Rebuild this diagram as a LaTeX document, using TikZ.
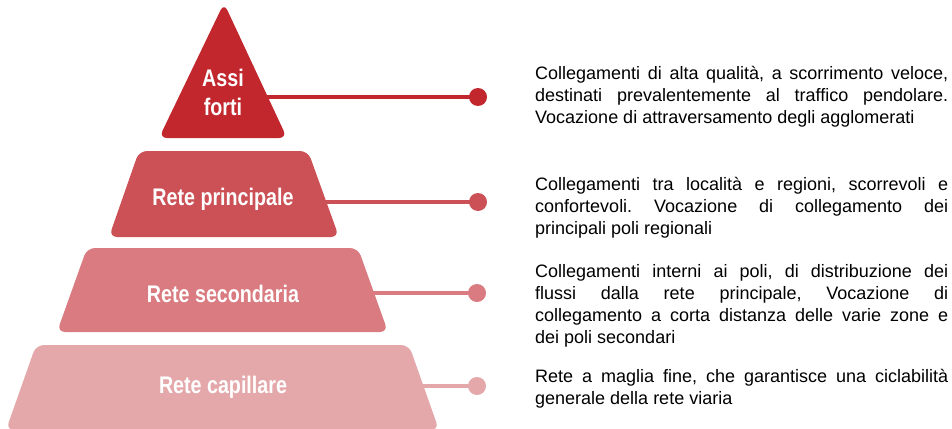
\documentclass[tikz,border=0pt]{standalone}
\usepackage{fontspec}
\setmainfont{Liberation Sans}
\newfontfamily\layerfont[FakeStretch=0.82]{Liberation Sans}
\usepackage{xcolor}
\hbadness=10000
\frenchspacing

\definecolor{assicol}{HTML}{C1272D}
\definecolor{princol}{HTML}{CC5156}
\definecolor{secocol}{HTML}{D97B80}
\definecolor{capicol}{HTML}{E4A8AA}

\tikzset{
    layer/.style={rounded corners=8pt},
    layerlabel/.style={text=white, inner sep=0pt, font=\layerfont\bfseries\fontsize{24}{29}\selectfont},
    leader/.style={line width=4.5pt},
    enddot/.style={circle, minimum size=18pt, inner sep=0pt},
    desc/.style={anchor=north west, inner sep=0pt, text width=413pt, align=justify, font=\fontsize{18}{22}\selectfont}
}

\begin{document}
\begin{tikzpicture}[x=1pt, y=-1pt]
        \useasboundingbox (0,0) rectangle (952,428);

        \fill[assicol, layer] (224,3) -- (287,138) -- (159,138) -- cycle;
        \fill[princol, layer] (139,151) -- (308,151) -- (339,237) -- (109,237) -- cycle;
        \fill[secocol, layer] (87,248) -- (358,248) -- (388,332) -- (57,332) -- cycle;
        \fill[capicol, layer] (36,345) -- (409,345) -- (439,430) -- (6,430) -- cycle;

        \node[layerlabel, align=center] (assi) at (223,92) {Assi\\forti};
        \node[layerlabel, anchor=base] (principale) at (223,205) {Rete principale};
        \node[layerlabel, anchor=base] (secondaria) at (223,302) {Rete secondaria};
        \node[layerlabel, anchor=base] (capillare) at (223,393) {Rete capillare};

        \coordinate (assi-e) at (266,97);
        \coordinate (principale-e) at (324,202);
        \coordinate (secondaria-e) at (372,293);
        \coordinate (capillare-e) at (423,386);

        \node[enddot, fill=assicol] (assi-dot) at (478,97) {};
        \node[enddot, fill=princol] (principale-dot) at (478,202) {};
        \node[enddot, fill=secocol] (secondaria-dot) at (477,293) {};
        \node[enddot, fill=capicol] (capillare-dot) at (477,386) {};

        \draw[leader, assicol] (assi-e) -- (assi-dot.center);
        \draw[leader, princol] (principale-e) -- (principale-dot.center);
        \draw[leader, secocol] (secondaria-e) -- (secondaria-dot.center);
        \draw[leader, capicol] (capillare-e) -- (capillare-dot.center);

        \node[desc] (assi-txt) at (535,66) {Collegamenti di alta qualità, a scorrimento veloce,\linebreak destinati prevalentemente al traffico pendolare.\linebreak Vocazione di attraversamento degli agglomerati};
        \node[desc] (principale-txt) at (535,177) {Collegamenti tra località e regioni, scorrevoli e\linebreak confortevoli. Vocazione di collegamento dei\linebreak principali poli regionali};
        \node[desc] (secondaria-txt) at (535,264) {Collegamenti interni ai poli, di distribuzione dei\linebreak flussi dalla rete principale, Vocazione di\linebreak collegamento a corta distanza delle varie zone e\linebreak dei poli secondari};
        \node[desc] (capillare-txt) at (535,369) {Rete a maglia fine, che garantisce una ciclabilità\linebreak generale della rete viaria};
\end{tikzpicture}
\end{document}
